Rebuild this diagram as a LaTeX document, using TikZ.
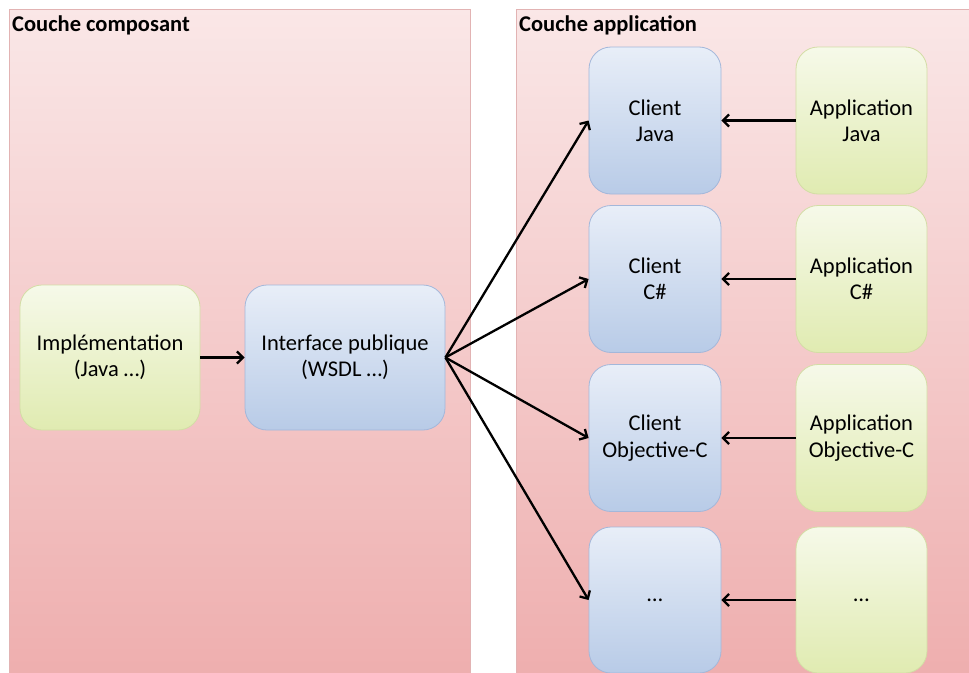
\documentclass[tikz,border=0pt]{standalone}
\usepackage{fontspec}
\setmainfont{Carlito}
\usetikzlibrary{arrows.meta}
\definecolor{pinkTop}{HTML}{FAE7E7}
\definecolor{pinkBot}{HTML}{EEADAD}
\definecolor{pinkLine}{HTML}{E2B3B3}
\definecolor{blueTop}{HTML}{E8EEF8}
\definecolor{blueBot}{HTML}{B8CBE7}
\definecolor{blueLine}{HTML}{A3B7DA}
\definecolor{greenTop}{HTML}{F6F9E9}
\definecolor{greenBot}{HTML}{E0EBB1}
\definecolor{greenLine}{HTML}{D3DDA5}
\tikzset{
  panel/.style={draw=pinkLine, line width=0.8pt, top color=pinkTop, bottom color=pinkBot},
  bluebox/.style={draw=blueLine, line width=0.8pt, rounded corners=22pt, top color=blueTop, bottom color=blueBot,
    align=center, font=\fontsize{22.5}{26.4}\selectfont, inner sep=0pt},
  greenbox/.style={draw=greenLine, line width=0.8pt, rounded corners=22pt, top color=greenTop, bottom color=greenBot,
    align=center, font=\fontsize{22.5}{26.4}\selectfont, inner sep=0pt},
  title/.style={font=\fontsize{22.5}{26.4}\selectfont\bfseries, anchor=base west, inner sep=0pt},
  conn/.style={line width=2.3pt, -{Straight Barb[length=6pt,width=12pt,line width=2.3pt]}}
}
\begin{document}
\begin{tikzpicture}[x=1pt,y=-1pt]
\useasboundingbox (0,0) rectangle (969,672);
\clip (0,0) rectangle (969,672);
\fill[white] (0,0) rectangle (969,672);
% panels
\path[panel] (9,9) rectangle (470,690);
\path[panel] (516,9) rectangle (990,690);
\node[title] (t1) at (12,31) {Couche composant};
\node[title] (t2) at (519,31) {Couche application};
% left nodes
\node[greenbox, minimum width=180pt, minimum height=145pt] (impl) at (110,357.5) {Implémentation\\(Java …)};
\node[bluebox, minimum width=200pt, minimum height=145pt] (iface) at (345,357.5) {Interface publique\\(WSDL …)};
% clients
\node[bluebox, minimum width=132pt, minimum height=147pt] (c1) at (655,120.5) {Client\\Java};
\node[bluebox, minimum width=132pt, minimum height=147pt] (c2) at (655,279) {Client\\C\#};
\node[bluebox, minimum width=132pt, minimum height=147pt] (c3) at (655,438) {Client\\Objective-C};
\node[bluebox, minimum width=132pt, minimum height=146pt] (c4) at (655,600) {…};
% applications
\node[greenbox, minimum width=131pt, minimum height=147pt] (a1) at (861.5,120.5) {Application\\Java};
\node[greenbox, minimum width=131pt, minimum height=147pt] (a2) at (861.5,279) {Application\\C\#};
\node[greenbox, minimum width=131pt, minimum height=147pt] (a3) at (861.5,438) {Application\\Objective-C};
\node[greenbox, minimum width=131pt, minimum height=146pt] (a4) at (861.5,600) {…};
% connectors
\draw[conn] (impl.east) -- (iface.west);
\draw[conn] (iface.east) -- (c1.west);
\draw[conn] (iface.east) -- (c2.west);
\draw[conn] (iface.east) -- (c3.west);
\draw[conn] (iface.east) -- (c4.west);
\draw[conn] (a1.west) -- (c1.east);
\draw[conn] (a2.west) -- (c2.east);
\draw[conn] (a3.west) -- (c3.east);
\draw[conn] (a4.west) -- (c4.east);
\end{tikzpicture}
\end{document}
